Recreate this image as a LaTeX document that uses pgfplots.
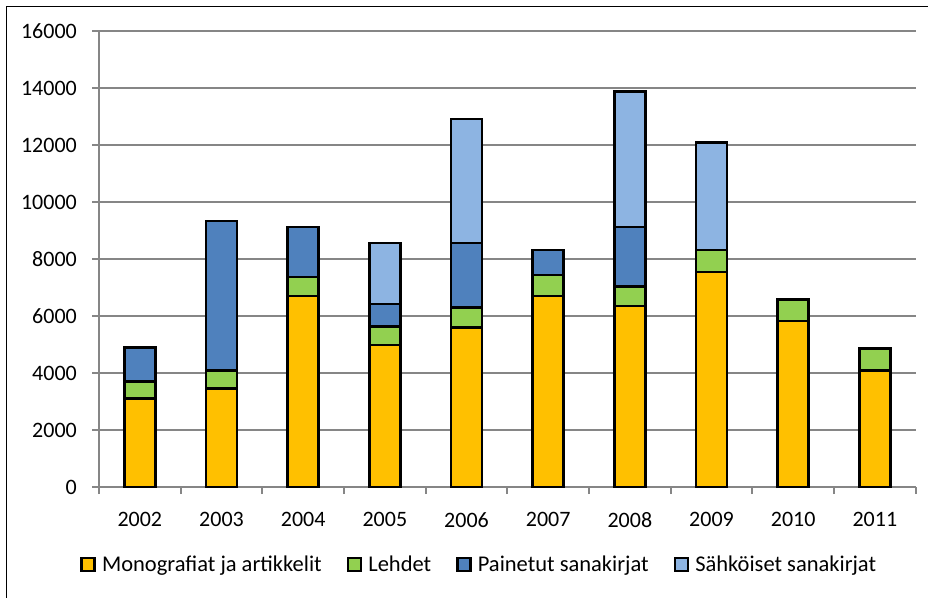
\documentclass[border=0pt]{standalone}
\usepackage{fontspec}
\setmainfont{Carlito}
\usepackage{pgfplots}
\usepackage{pgfplotstable}
\pgfplotsset{compat=1.18}

\definecolor{monoC}{HTML}{FFC000}
\definecolor{lehdetC}{HTML}{92D050}
\definecolor{painetC}{HTML}{4F81BD}
\definecolor{sahkoC}{HTML}{8DB4E2}
\definecolor{gridC}{RGB}{134,134,134}

% Julkaisut vuosittain (kpl)
\pgfplotstableread{
x mono lehdet painetut sahko
0 3100 600 1200 0
1 3460 620 5250 0
2 6700 670 1750 0
3 4980 645 795 2150
4 5590 700 2280 4340
5 6710 730 880 0
6 6350 680 2100 4740
7 7550 765 0 3765
8 5830 750 0 0
9 4080 785 0 0
}\datatable

\begin{document}
\begin{tikzpicture}[font=\fontsize{22}{26}\selectfont]
\useasboundingbox (0pt,0pt) rectangle (928pt,597pt);
\draw[line width=1.3pt] (6.5pt,-20pt) -- (6.5pt,590.5pt) -- (950pt,590.5pt);
\begin{axis}[
  at={(99pt,110pt)}, anchor=south west,
  scale only axis, width=816.7pt, height=456pt,
  ybar stacked, bar width=31pt,
  xmin=-0.5, xmax=9.5, ymin=0, ymax=16000,
  xtick={-0.5,0.5,...,9.5},
  x tick label as interval,
  xticklabels={2002,2003,2004,2005,2006,2007,2008,2009,2010,2011},
  ytick={0,2000,...,16000},
  scaled y ticks=false,
  /pgf/number format/1000 sep={},
  /pgf/number format/assume math mode=true,
  axis x line*=bottom, axis y line*=left,
  axis line style={gridC, line width=2pt},
  tick style={gridC, line width=2pt},
  tick align=outside, major tick length=7pt,
  ymajorgrids, grid style={gridC, line width=2pt},
  yticklabel style={inner sep=0pt, xshift=-15pt},
  xticklabel style={inner sep=0pt, yshift=-18pt},
  every axis plot/.append style={draw=black, line width=2.5pt},
  legend image code/.code={\draw[#1, draw=black, line width=2.6pt] (0pt,-6.5pt) rectangle (13pt,6.5pt);},
  legend columns=4,
  legend style={at={(-0.023,-0.17)}, anchor=west, draw=none, inner sep=0pt,
    nodes={inner sep=0pt},
    /tikz/every odd column/.append style={column sep=6pt},
    /tikz/every even column/.append style={column sep=25pt},
    font=\fontsize{22.5}{26}\selectfont},
  legend cell align=left,
]
\addplot[fill=monoC] table[x=x, y=mono] {\datatable};
\addplot[fill=lehdetC] table[x=x, y=lehdet] {\datatable};
\addplot[fill=painetC] table[x=x, y=painetut] {\datatable};
\addplot[fill=sahkoC] table[x=x, y=sahko] {\datatable};
\legend{Monografiat ja artikkelit, Lehdet, Painetut sanakirjat, Sähköiset sanakirjat}
\end{axis}
\end{tikzpicture}
\end{document}
